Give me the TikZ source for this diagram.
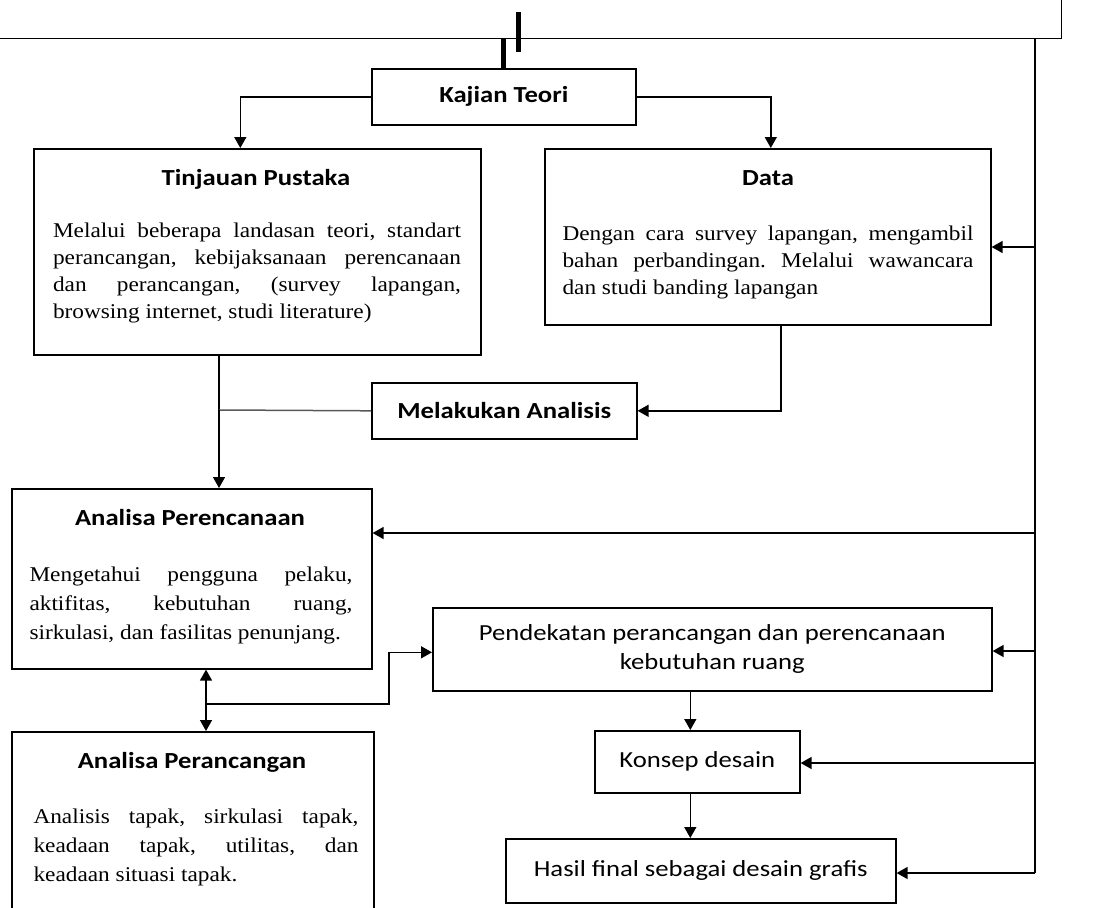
\documentclass[tikz,border=0pt]{standalone}
\usepackage{fontspec}
\setmainfont{Liberation Serif}[FakeStretch=1.11]
\newfontfamily\titlefont{Carlito}[FakeStretch=1.16]
\usetikzlibrary{arrows.meta,calc}
\frenchspacing

\tikzset{
  box/.style={draw, line width=1.6pt, anchor=north west, inner sep=0pt},
  boxtitle/.style={font=\titlefont\bfseries\fontsize{23}{27}\selectfont, anchor=base},
  boxtext/.style={font=\fontsize{21}{27}\selectfont, align=justify, anchor=north, inner sep=0pt},
  heading/.style={font=\titlefont\bfseries\fontsize{23}{27}\selectfont},
  plain/.style={font=\titlefont\fontsize{23}{29}\selectfont, align=center},
  arr/.style={-{Triangle[width=12pt,length=11pt]}, line width=1.5pt},
  link/.style={line width=1.5pt},
}

\begin{document}
\begin{tikzpicture}[x=1pt,y=-1pt]
    \useasboundingbox (0,0) rectangle (1107,907);

    % frame above
    \node[box, line width=1.2pt, minimum width=1071pt, minimum height=90pt] (frame) at (-10,-52) {};

    % boxes
    \node[box, heading, minimum width=264pt, minimum height=56pt] (kajian) at (371,68) {Kajian Teori};
    \node[box, minimum width=447pt, minimum height=206pt] (tinjauan) at (33,148) {};
    \node[box, minimum width=446pt, minimum height=176pt] (data) at (544,148) {};
    \node[box, heading, minimum width=265pt, minimum height=56pt] (melakukan) at (371,382) {Melakukan Analisis};
    \node[box, minimum width=360pt, minimum height=180pt] (perencanaan) at (11,488) {};
    \node[box, minimum width=362pt, minimum height=200pt] (perancangan) at (11,731) {};
    \node[box, plain, minimum width=559pt, minimum height=83pt] (pendekatan) at (432,607) {Pendekatan perancangan dan perencanaan\\kebutuhan ruang};
    \node[box, plain, minimum width=205pt, minimum height=62pt] (konsep) at (594,730) {Konsep desain};
    \node[box, plain, minimum width=390pt, minimum height=64pt] (hasil) at (505,838) {Hasil final sebagai desain grafis};

    % titles and texts
    \node[boxtitle] (tinjauantitle) at (256,185) {Tinjauan Pustaka};
    \node[boxtext, text width=408pt] (tinjauantext) at (257,218) {\strut Melalui beberapa landasan teori, standart\linebreak perancangan, kebijaksanaan perencanaan\linebreak dan perancangan, (survey lapangan,\linebreak browsing internet, studi literature)};

    \node[boxtitle] (datatitle) at (768,185) {Data};
    \node[boxtext, text width=411pt] (datatext) at (768,221) {\strut Dengan cara survey lapangan, mengambil\linebreak bahan perbandingan. Melalui wawancara\linebreak dan studi banding lapangan};

    \node[boxtitle] (perencanaantitle) at (190,525) {Analisa Perencanaan};
    \node[boxtext, text width=323pt, font=\fontsize{21}{29}\selectfont] (perencanaantext) at (191,561) {\strut Mengetahui pengguna pelaku,\linebreak aktifitas, kebutuhan ruang,\linebreak sirkulasi, dan fasilitas penunjang.};

    \node[boxtitle] (perancangantitle) at (192,768) {Analisa Perancangan};
    \node[boxtext, text width=325pt, font=\fontsize{21}{29}\selectfont] (perancangantext) at (196,803) {\strut Analisis tapak, sirkulasi tapak,\linebreak keadaan tapak, utilitas, dan\linebreak keadaan situasi tapak.};

    % top bars
    \coordinate (bar) at (518,12);
    \draw[line width=5pt] (bar) -- ++(0,40);
    \draw[line width=5pt] (frame.south -| kajian.north) -- (kajian.north);

    % from Kajian Teori
    \draw[arr] (kajian.west) -| ([xshift=-17pt]tinjauan.north);
    \draw[arr] (kajian.east) -| ([xshift=3pt]data.north);

    % towards analysis
    \coordinate (join) at (219,410);
    \draw[arr] ([xshift=13pt]data.south) |- (melakukan.east);
    \draw[link] (tinjauan.south -| join) -- (join);
    \draw[link, black!65] (melakukan.west) -- (join);
    \draw[arr] (join) -- (join |- perencanaan.north);

    % between the two analyses
    \coordinate (split) at (206,704);
    \draw[arr] (split) -- (split |- perencanaan.south);
    \draw[arr] (split) -- (split |- perancangan.north);
    \draw[arr] (split) -- ++(183,0) |- ([yshift=-3pt]pendekatan.west);

    % design chain
    \draw[arr] ([xshift=-7pt]konsep.north |- pendekatan.south) -- ([xshift=-7pt]konsep.north);
    \draw[arr] ([xshift=-7pt]konsep.south) -- ([xshift=-7pt]konsep.south |- hasil.north);

    % feedback line on the right
    \coordinate (trunktop) at (1035,38);
    \coordinate (trunkend) at (1035,873);
    \draw[link] (trunktop) -- (trunkend);
    \draw[arr] (trunkend) -- (trunkend -| hasil.east);
    \foreach \name/\yy in {data/247,perencanaan/533,pendekatan/651,konsep/763}
        \draw[arr] (trunktop |- 0,\yy) -- (\name.east |- 0,\yy);

\end{tikzpicture}
\end{document}
